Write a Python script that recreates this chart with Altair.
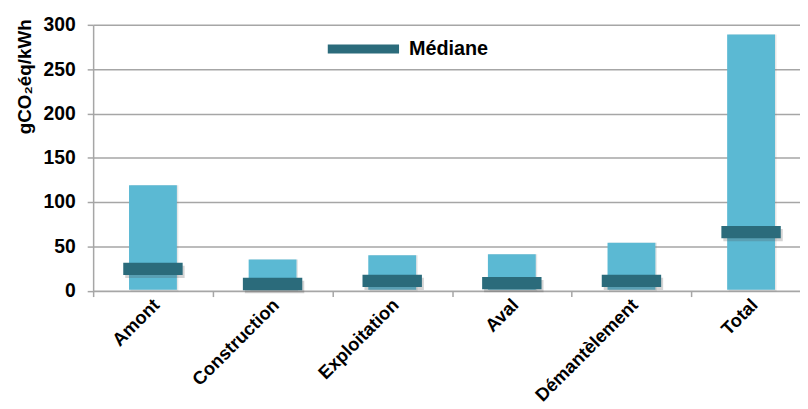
import altair as alt
import pandas as pd

categories = ["Amont", "Construction", "Exploitation", "Aval", "Démantèlement", "Total"]
range_min = [1, 1, 1, 1, 1, 1]
range_max = [119, 35, 40, 41, 54, 289]
median = [24.5, 7.5, 11, 8.5, 11, 66]
legend_label = "Médiane"
y_ticks = [0, 50, 100, 150, 200, 250, 300]

LIGHT = "#5BB9D3"
DARK = "#2B6B7B"
GRID = "#A6A6A6"
FONT = "Liberation Sans"

df = pd.DataFrame({
    "etape": categories,
    "min": range_min,
    "max": range_max,
    "median": median,
    "serie": [legend_label] * len(categories),
})

x_enc = alt.X(
    "etape:N",
    sort=categories,
    scale=alt.Scale(range=[0, 725], paddingInner=0, paddingOuter=0),
    axis=alt.Axis(
        title=None, labelAngle=315, tickBand="extent", grid=False,
        labelFont=FONT, labelFontWeight="bold", labelFontSize=18.5, labelColor="black",
        labelPadding=5, tickSize=6, tickColor=GRID, tickWidth=1.5,
        domainColor=GRID, domainWidth=1.5, labelOffset=3,
    ),
)

bar_shadow = alt.Chart(df).mark_bar(
    color="#777777", opacity=0.18, width=alt.RelativeBandSize(0.4), xOffset=1.5, yOffset=1.5
).encode(x=alt.X("etape:N", sort=categories), y="min:Q", y2="max:Q")

bars = alt.Chart(df).mark_bar(color=LIGHT, width=alt.RelativeBandSize(0.4)).encode(
    x=x_enc,
    y=alt.Y(
        "min:Q",
        scale=alt.Scale(domain=[0, 300], nice=False),
        axis=alt.Axis(
            values=y_ticks, title="gCO₂éq/kWh", grid=True, gridColor=GRID, gridWidth=1.5,
            domainColor=GRID, domainWidth=1.5, tickColor=GRID, tickWidth=1.5, tickSize=6,
            labelFont=FONT, labelFontWeight="bold", labelFontSize=19.5, labelColor="black",
            labelPadding=12,
            titleFont=FONT, titleFontWeight="bold", titleFontSize=19, titleColor="black",
            titleAngle=270, titleX=-63, titleY=52, titleAlign="center",
            titleBaseline="alphabetic",
        ),
    ),
    y2="max:Q",
)

shadow = alt.Chart(df).mark_tick(
    thickness=12.5, size=60, color="#555555", opacity=0.25, xOffset=2, yOffset=3
).encode(x=alt.X("etape:N", sort=categories), y="median:Q")

med = alt.Chart(df).mark_tick(thickness=12.5, size=60, opacity=1).encode(
    x=alt.X("etape:N", sort=categories),
    y="median:Q",
    color=alt.Color(
        "serie:N",
        scale=alt.Scale(range=[DARK]),
        legend=alt.Legend(
            title=None, orient="none", legendX=237, legendY=-11.5,
            symbolType="M-1,-0.125H1V0.125H-1Z", symbolSize=5184,
            symbolFillColor=DARK, symbolStrokeWidth=0, symbolOpacity=1,
            labelFont=FONT, labelFontWeight="bold", labelFontSize=20, labelColor="black",
            labelOffset=10, padding=0,
        ),
    ),
)

chart = alt.layer(bar_shadow, bars, shadow, med).properties(
    width=714, height=268.5,
    autosize=alt.AutoSizeParams(type="none"),
    padding={"left": 86, "top": 15, "right": 0, "bottom": 110},
).configure_view(stroke=None)

chart.save("out.html", embed_options={"renderer": "svg", "actions": False})
